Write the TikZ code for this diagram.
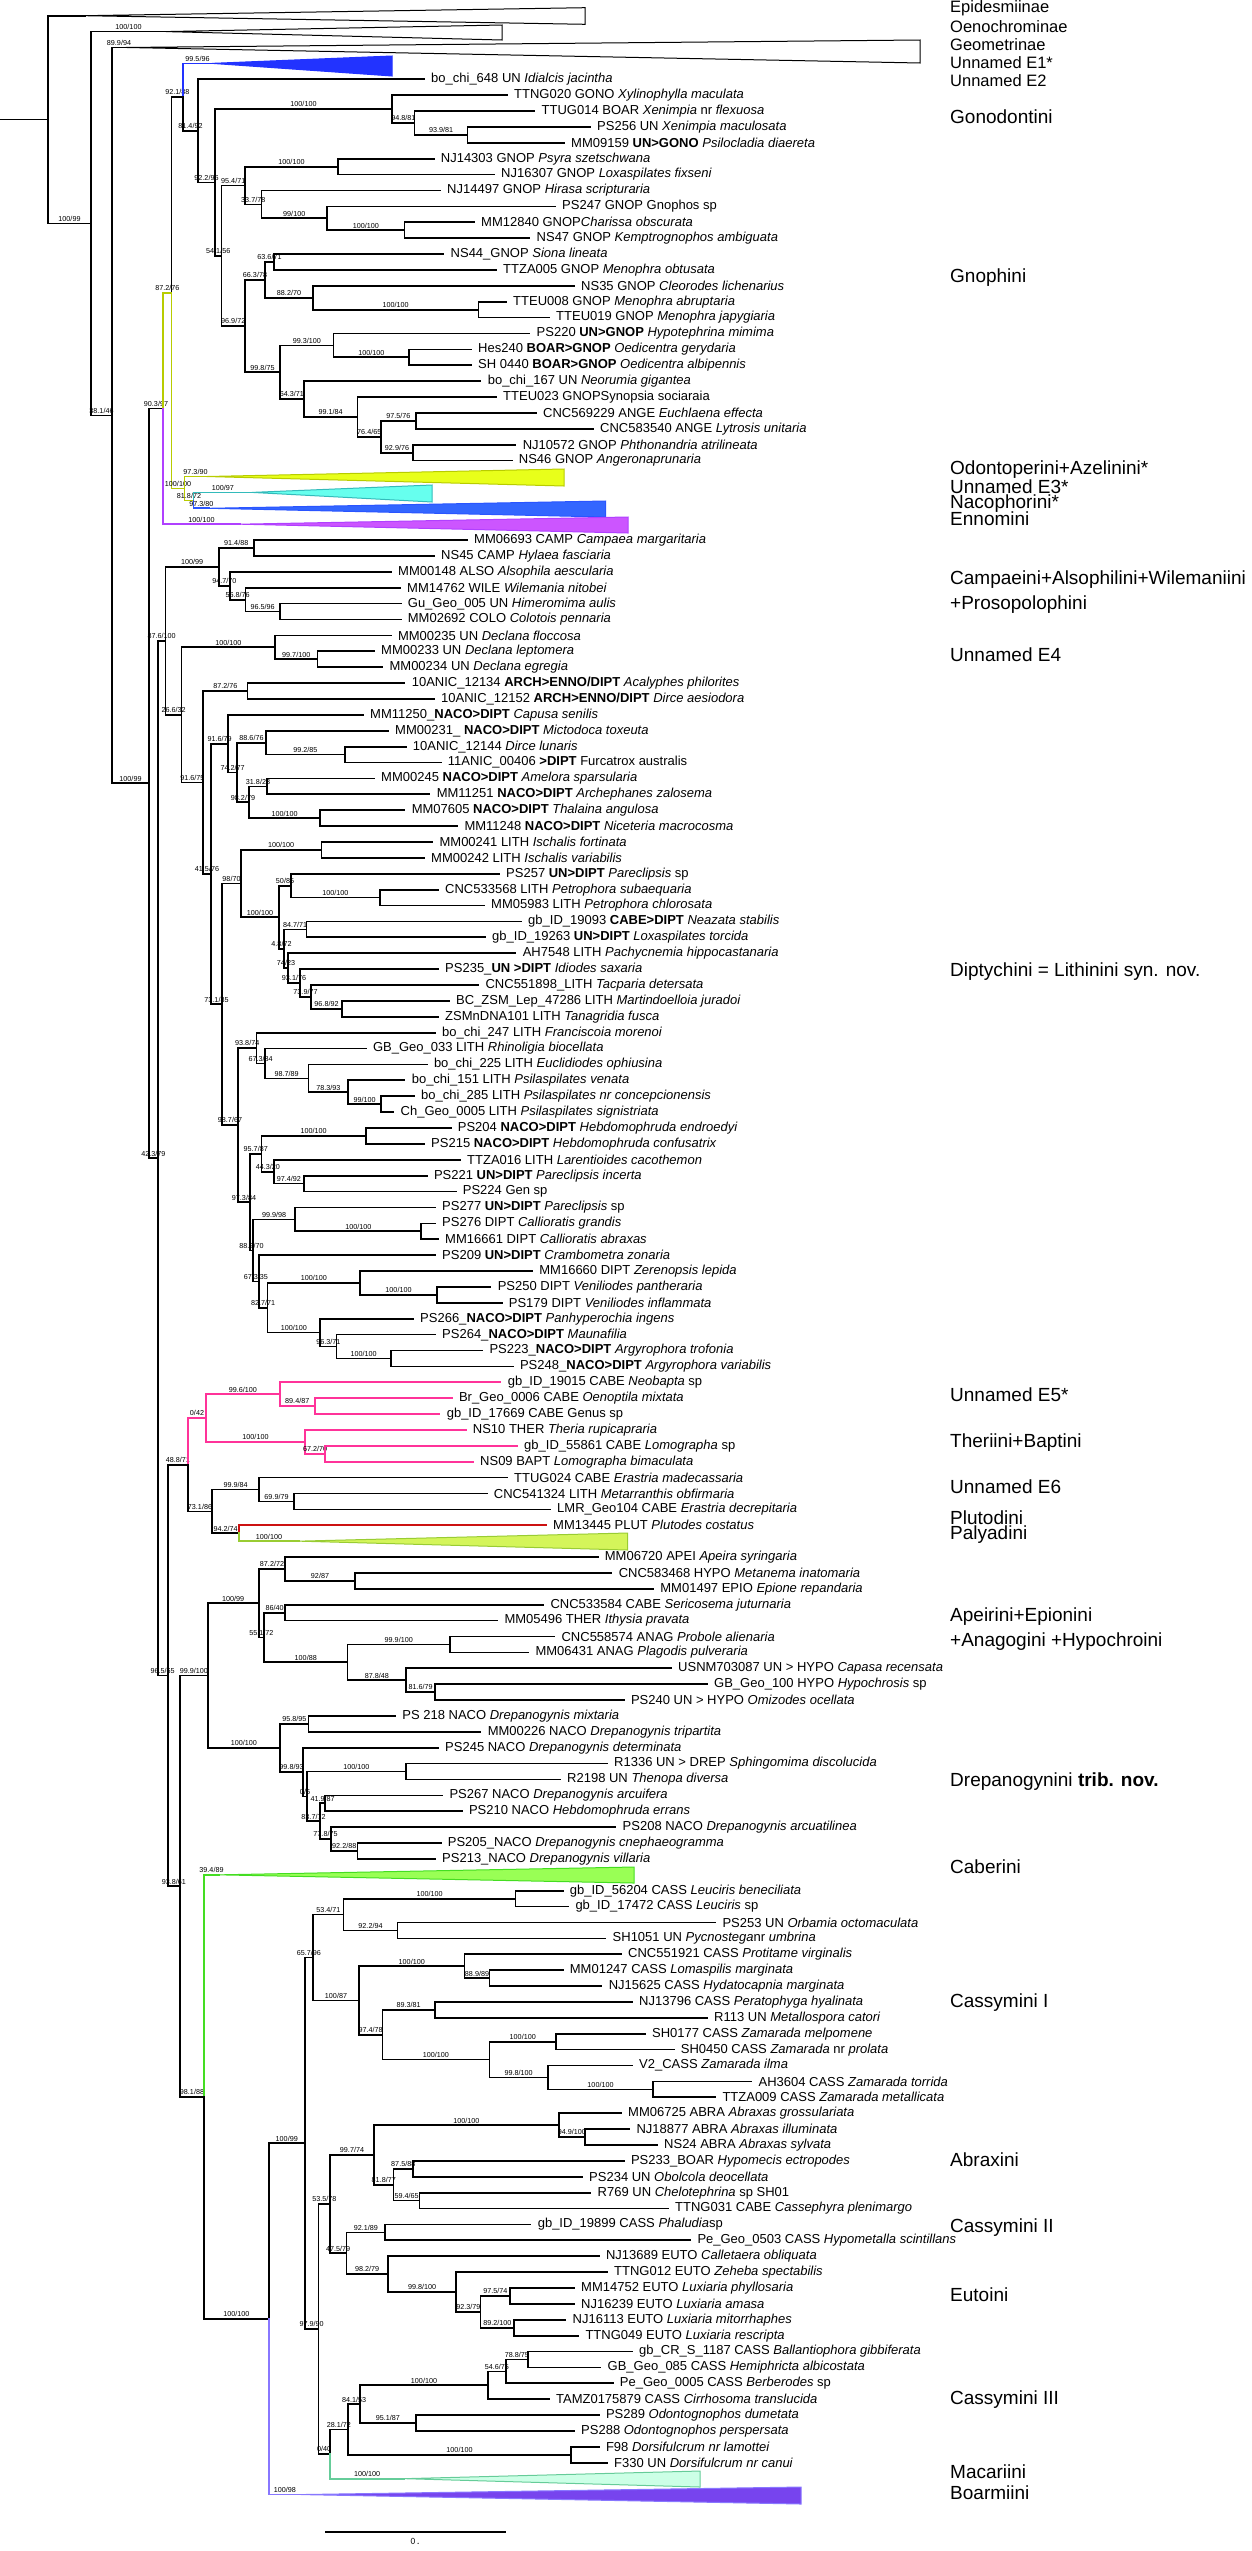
\documentclass[tikz,border=0pt]{standalone}
\usepackage{fontspec}
\setmainfont{Liberation Sans}
\usetikzlibrary{calc}
\definecolor{cBlue}{HTML}{2233FF}
\definecolor{cYG}{HTML}{B8CC00}
\definecolor{cOdoF}{HTML}{E8FF1A}
\definecolor{cE3}{HTML}{33BBBB}
\definecolor{cE3F}{HTML}{66FFEE}
\definecolor{cNac}{HTML}{2A55FF}
\definecolor{cNacF}{HTML}{3366FF}
\definecolor{cEnn}{HTML}{B040FF}
\definecolor{cEnnF}{HTML}{CC55FF}
\definecolor{cPink}{HTML}{FF3399}
\definecolor{cRed}{HTML}{CC1111}
\definecolor{cPal}{HTML}{99CC33}
\definecolor{cPalF}{HTML}{D4F55A}
\definecolor{cCab}{HTML}{44DD22}
\definecolor{cCabF}{HTML}{99FF55}
\definecolor{cMac}{HTML}{66CC99}
\definecolor{cMacF}{HTML}{CCFFE6}
\definecolor{cBoa}{HTML}{8877FF}
\definecolor{cBoaF}{HTML}{7744EE}
\newcommand\leafat[4]{\coordinate (#1) at (#2,{15.7+15.89*#3}); \node[tl] (#1t) at (#1) {#4};}
\newcommand\inode[4]{\path let \p1=($(#3)!0.5!(#4)$) in coordinate (#1) at (#2pt,\y1);}
\newcommand\tri[7]{\coordinate (#1) at (#2,{15.7+15.89*#3}); \filldraw[tristyle,#7] (#1) -- (#4,#5) -- (#4,#6) -- cycle;}
\newcommand\ted[3][]{\draw[br,#1] (#2) |- (#3);}
\newcommand\led[4][]{\draw[br,#1] (#2) |- node[sl]{#4} (#3);}
\begin{document}
\begin{tikzpicture}[x=1pt,y=-1pt,
  br/.style={line width=1.7pt, line cap=rect, line join=miter},
  sl/.style={pos=0.75, anchor=south, yshift=1.2pt, inner sep=0pt, text=black, font=\fontsize{7.2}{7.2}\selectfont},
  tl/.style={anchor=west, xshift=7pt, inner sep=0pt, font=\fontsize{13}{13}\selectfont},
  cl/.style={anchor=west, inner sep=0pt, font=\fontsize{19}{19}\selectfont},
  ct/.style={anchor=west, inner sep=0pt, font=\fontsize{16.5}{16.5}\selectfont},
  tristyle/.style={line width=1pt}]
\useasboundingbox (0,0) rectangle (1251,2551);
% ---------- collapsed clades ----------
\tri{epi}{85}{0}{585}{7.7}{24.3}{draw=black,fill=white}
\tri{oen}{166}{1}{502}{25}{40}{draw=black,fill=white}
\tri{geo}{126}{2}{920}{40}{63}{draw=black,fill=white}
\tri{eone}{212}{3}{392}{56}{76}{draw=cBlue,fill=cBlue}
\tri{odo}{206.6}{29}{564}{469}{486}{draw=cYG,fill=cOdoF}
\tri{ethree}{252}{30}{432}{485}{502}{draw=cE3,fill=cE3F}
\tri{nac}{209}{31}{605.5}{501}{517}{draw=cNac,fill=cNacF}
\tri{enn}{240}{32}{628}{517}{533}{draw=cEnn,fill=cEnnF}
\tri{paly}{298.7}{96}{627.6}{1533}{1550}{draw=cPal,fill=cPalF}
\tri{cab}{219}{117}{634}{1867}{1883}{draw=cCab,fill=cCabF}
\tri{mac}{404.6}{155}{700}{2471}{2487}{draw=cMac,fill=cMacF}
\tri{boa}{301}{156}{801}{2487}{2504}{draw=cBoa,fill=cBoaF}
% ---------- leaves ----------
\leafat{l1}{424}{4}{bo\_chi\_648 UN \textit{Idialcis jacintha}}
\leafat{l2}{507}{5}{TTNG020 GONO \textit{Xylinophylla maculata}}
\leafat{l3}{534.5}{6}{TTUG014 BOAR \textit{Xenimpia} nr \textit{flexuosa}}
\leafat{l4}{590}{7}{PS256 UN \textit{Xenimpia maculosata}}
\leafat{l5}{564}{8}{MM09159 \textbf{UN>GONO} \textit{Psilocladia diaereta}}
\leafat{l6}{433.7}{9}{NJ14303 GNOP \textit{Psyra szetschwana}}
\leafat{l7}{494}{10}{NJ16307 GNOP \textit{Loxaspilates fixseni}}
\leafat{l8}{440}{11}{NJ14497 GNOP \textit{Hirasa scripturaria}}
\leafat{l9}{555}{12}{PS247 GNOP Gnophos sp}
\leafat{l10}{474}{13}{MM12840 GNOP\textit{Charissa obscurata}}
\leafat{l11}{529.5}{14}{NS47 GNOP \textit{Kemptrognophos ambiguata}}
\leafat{l12}{443.5}{15}{NS44\_GNOP \textit{Siona lineata}}
\leafat{l13}{496}{16}{TTZA005 GNOP \textit{Menophra obtusata}}
\leafat{l14}{574}{17}{NS35 GNOP \textit{Cleorodes lichenarius}}
\leafat{l15}{506}{18}{TTEU008 GNOP \textit{Menophra abruptaria}}
\leafat{l16}{549}{19}{TTEU019 GNOP \textit{Menophra japygiaria}}
\leafat{l17}{529.5}{20}{PS220 \textbf{UN>GNOP} \textit{Hypotephrina mimima}}
\leafat{l18}{471}{21}{Hes240 \textbf{BOAR>GNOP} \textit{Oedicentra gerydaria}}
\leafat{l19}{471}{22}{SH 0440 \textbf{BOAR>GNOP} \textit{Oedicentra albipennis}}
\leafat{l20}{480.6}{23}{bo\_chi\_167 UN \textit{Neorumia gigantea}}
\leafat{l21}{496}{24}{TTEU023 GNOPSynopsia sociaraia}
\leafat{l22}{536}{25}{CNC569229 ANGE \textit{Euchlaena effecta}}
\leafat{l23}{593}{26}{CNC583540 ANGE \textit{Lytrosis unitaria}}
\leafat{l24}{515.6}{27}{NJ10572 GNOP \textit{Phthonandria atrilineata}}
\leafat{l25}{511.7}{28}{NS46 GNOP \textit{Angeronaprunaria}}
\leafat{l26}{467}{33}{MM06693 CAMP \textit{Campaea margaritaria}}
\leafat{l27}{434}{34}{NS45 CAMP \textit{Hylaea fasciaria}}
\leafat{l28}{391}{35}{MM00148 ALSO \textit{Alsophila aescularia}}
\leafat{l29}{400}{36}{MM14762 WILE \textit{Wilemania nitobei}}
\leafat{l30}{400.7}{37}{Gu\_Geo\_005 UN \textit{Himeromima aulis}}
\leafat{l31}{400.7}{38}{MM02692 COLO \textit{Colotois pennaria}}
\leafat{l32}{390.8}{39}{MM00235 UN \textit{Declana floccosa}}
\leafat{l33}{374}{40}{MM00233 UN \textit{Declana leptomera}}
\leafat{l34}{382.4}{41}{MM00234 UN \textit{Declana egregia}}
\leafat{l35}{404.6}{42}{10ANIC\_12134 \textbf{ARCH>ENNO/DIPT} \textit{Acalyphes philorites}}
\leafat{l36}{434}{43}{10ANIC\_12152 \textbf{ARCH>ENNO/DIPT} \textit{Dirce aesiodora}}
\leafat{l37}{363}{44}{MM11250\_\textbf{NACO>DIPT} \textit{Capusa senilis}}
\leafat{l38}{388}{45}{MM00231\_ \textbf{NACO>DIPT} \textit{Mictodoca toxeuta}}
\leafat{l39}{405.7}{46}{10ANIC\_12144 \textit{Dirce lunaris}}
\leafat{l40}{440.7}{47}{11ANIC\_00406 \textbf{>DIPT} Furcatrox australis}
\leafat{l41}{374}{48}{MM00245 \textbf{NACO>DIPT} \textit{Amelora sparsularia}}
\leafat{l42}{429.6}{49}{MM11251 \textbf{NACO>DIPT} \textit{Archephanes zalosema}}
\leafat{l43}{404.6}{50}{MM07605 \textbf{NACO>DIPT} \textit{Thalaina angulosa}}
\leafat{l44}{457.3}{51}{MM11248 \textbf{NACO>DIPT} \textit{Niceteria macrocosma}}
\leafat{l45}{432.4}{52}{MM00241 LITH \textit{Ischalis fortinata}}
\leafat{l46}{424}{53}{MM00242 LITH \textit{Ischalis variabilis}}
\leafat{l47}{499}{54}{PS257 \textbf{UN>DIPT} \textit{Pareclipsis} sp}
\leafat{l48}{438}{55}{CNC533568 LITH \textit{Petrophora subaequaria}}
\leafat{l49}{484}{56}{MM05983 LITH \textit{Petrophora chlorosata}}
\leafat{l50}{521}{57}{gb\_ID\_19093 \textbf{CABE>DIPT} \textit{Neazata stabilis}}
\leafat{l51}{485}{58}{gb\_ID\_19263 \textbf{UN>DIPT} \textit{Loxaspilates torcida}}
\leafat{l52}{515.6}{59}{AH7548 LITH \textit{Pachycnemia hippocastanaria}}
\leafat{l53}{438}{60}{PS235\_\textbf{UN >DIPT} \textit{Idiodes saxaria}}
\leafat{l54}{478.4}{61}{CNC551898\_LITH \textit{Tacparia detersata}}
\leafat{l55}{449}{62}{BC\_ZSM\_Lep\_47286 LITH \textit{Martindoelloia juradoi}}
\leafat{l56}{438}{63}{ZSMnDNA101 LITH \textit{Tanagridia fusca}}
\leafat{l57}{435}{64}{bo\_chi\_247 LITH \textit{Franciscoia morenoi}}
\leafat{l58}{365.8}{65}{GB\_Geo\_033 LITH \textit{Rhinoligia biocellata}}
\leafat{l59}{426.8}{66}{bo\_chi\_225 LITH \textit{Euclidiodes ophiusina}}
\leafat{l60}{404.6}{67}{bo\_chi\_151 LITH \textit{Psilaspilates venata}}
\leafat{l61}{414}{68}{bo\_chi\_285 LITH \textit{Psilaspilates nr concepcionensis}}
\leafat{l62}{393.5}{69}{Ch\_Geo\_0005 LITH \textit{Psilaspilates signistriata}}
\leafat{l63}{450.7}{70}{PS204 \textbf{NACO>DIPT} \textit{Hebdomophruda endroedyi}}
\leafat{l64}{424}{71}{PS215 \textbf{NACO>DIPT} \textit{Hebdomophruda confusatrix}}
\leafat{l65}{460}{72}{TTZA016 LITH \textit{Larentioides cacothemon}}
\leafat{l66}{426.8}{73}{PS221 \textbf{UN>DIPT} \textit{Pareclipsis incerta}}
\leafat{l67}{455.7}{74}{PS224 Gen sp}
\leafat{l68}{435}{75}{PS277 \textbf{UN>DIPT} \textit{Pareclipsis} sp}
\leafat{l69}{435}{76}{PS276 DIPT \textit{Callioratis grandis}}
\leafat{l70}{438}{77}{MM16661 DIPT \textit{Callioratis abraxas}}
\leafat{l71}{435}{78}{PS209 \textbf{UN>DIPT} \textit{Crambometra zonaria}}
\leafat{l72}{532.2}{79}{MM16660 DIPT \textit{Zerenopsis lepida}}
\leafat{l73}{490.6}{80}{PS250 DIPT \textit{Veniliodes pantheraria}}
\leafat{l74}{501.7}{81}{PS179 DIPT \textit{Veniliodes inflammata}}
\leafat{l75}{413}{82}{PS266\_\textbf{NACO>DIPT} \textit{Panhyperochia ingens}}
\leafat{l76}{435}{83}{PS264\_\textbf{NACO>DIPT} \textit{Maunafilia}}
\leafat{l77}{482.3}{84}{PS223\_\textbf{NACO>DIPT} \textit{Argyrophora trofonia}}
\leafat{l78}{512.8}{85}{PS248\_\textbf{NACO>DIPT} \textit{Argyrophora variabilis}}
\leafat{l79}{500.6}{86}{gb\_ID\_19015 CABE \textit{Neobapta} sp}
\leafat{l80}{451.8}{87}{Br\_Geo\_0006 CABE \textit{Oenoptila mixtata}}
\leafat{l81}{439.6}{88}{gb\_ID\_17669 CABE Genus sp}
\leafat{l82}{465.7}{89}{NS10 THER \textit{Theria rupicapraria}}
\leafat{l83}{517}{90}{gb\_ID\_55861 CABE \textit{Lomographa} sp}
\leafat{l84}{473}{91}{NS09 BAPT \textit{Lomographa bimaculata}}
\leafat{l85}{507}{92}{TTUG024 CABE \textit{Erastria madecassaria}}
\leafat{l86}{486.7}{93}{CNC541324 LITH \textit{Metarranthis obfirmaria}}
\leafat{l87}{550}{94}{LMR\_Geo104 CABE \textit{Erastria decrepitaria}}
\leafat{l88}{546}{95}{MM13445 PLUT \textit{Plutodes costatus}}
\leafat{l89}{597.7}{97}{MM06720 APEI \textit{Apeira syringaria}}
\leafat{l90}{611.6}{98}{CNC583468 HYPO \textit{Metanema inatomaria}}
\leafat{l91}{653.2}{99}{MM01497 EPIO \textit{Epione repandaria}}
\leafat{l92}{543.3}{100}{CNC533584 CABE \textit{Sericosema juturnaria}}
\leafat{l93}{497.3}{101}{MM05496 THER \textit{Ithysia pravata}}
\leafat{l94}{554.4}{102}{CNC558574 ANAG \textit{Probole alienaria}}
\leafat{l95}{528.3}{103}{MM06431 ANAG \textit{Plagodis pulveraria}}
\leafat{l96}{671}{104}{USNM703087 UN > HYPO \textit{Capasa recensata}}
\leafat{l97}{707}{105}{GB\_Geo\_100 HYPO \textit{Hypochrosis} sp}
\leafat{l98}{623.8}{106}{PS240 UN > HYPO \textit{Omizodes ocellata}}
\leafat{l99}{395.2}{107}{PS 218 NACO \textit{Drepanogynis mixtaria}}
\leafat{l100}{480.6}{108}{MM00226 NACO \textit{Drepanogynis tripartita}}
\leafat{l101}{438}{109}{PS245 NACO \textit{Drepanogynis determinata}}
\leafat{l102}{607}{110}{R1336 UN > DREP \textit{Sphingomima discolucida}}
\leafat{l103}{560}{111}{R2198 UN \textit{Thenopa diversa}}
\leafat{l104}{442.3}{112}{PS267 NACO \textit{Drepanogynis arcuifera}}
\leafat{l105}{461.8}{113}{PS210 NACO \textit{Hebdomophruda errans}}
\leafat{l106}{615.5}{114}{PS208 NACO \textit{Drepanogynis arcuatilinea}}
\leafat{l107}{440.7}{115}{PS205\_NACO \textit{Drepanogynis cnephaeogramma}}
\leafat{l108}{435}{116}{PS213\_NACO \textit{Drepanogynis villaria}}
\leafat{l109}{562.7}{118}{gb\_ID\_56204 CASS \textit{Leuciris beneciliata}}
\leafat{l110}{568.3}{119}{gb\_ID\_17472 CASS \textit{Leuciris} sp}
\leafat{l111}{715.3}{120}{PS253 UN \textit{Orbamia octomaculata}}
\leafat{l112}{605.5}{121}{SH1051 UN \textit{Pycnostega}nr \textit{umbrina}}
\leafat{l113}{621}{122}{CNC551921 CASS \textit{Protitame virginalis}}
\leafat{l114}{562.7}{123}{MM01247 CASS \textit{Lomaspilis marginata}}
\leafat{l115}{601.6}{124}{NJ15625 CASS \textit{Hydatocapnia marginata}}
\leafat{l116}{632}{125}{NJ13796 CASS \textit{Peratophyga hyalinata}}
\leafat{l117}{707}{126}{R113 UN \textit{Metallospora catori}}
\leafat{l118}{644.9}{127}{SH0177 CASS \textit{Zamarada melpomene}}
\leafat{l119}{673.7}{128}{SH0450 CASS \textit{Zamarada} nr \textit{prolata}}
\leafat{l120}{632}{129}{V2\_CASS \textit{Zamarada ilma}}
\leafat{l121}{751.4}{130}{AH3604 CASS \textit{Zamarada torrida}}
\leafat{l122}{715.3}{131}{TTZA009 CASS \textit{Zamarada metallicata}}
\leafat{l123}{621}{132}{MM06725 ABRA \textit{Abraxas grossulariata}}
\leafat{l124}{629.3}{133}{NJ18877 ABRA \textit{Abraxas illuminata}}
\leafat{l125}{657}{134}{NS24 ABRA \textit{Abraxas sylvata}}
\leafat{l126}{623.8}{135}{PS233\_BOAR \textit{Hypomecis ectropodes}}
\leafat{l127}{582}{136}{PS234 UN \textit{Obolcola deocellata}}
\leafat{l128}{590.5}{137}{R769 UN \textit{Chelotephrina} sp SH01}
\leafat{l129}{668}{138}{TTNG031 CABE \textit{Cassephyra plenimargo}}
\leafat{l130}{530.6}{139}{gb\_ID\_19899 CASS \textit{Phaludia}sp}
\leafat{l131}{690.3}{140}{Pe\_Geo\_0503 CASS \textit{Hypometalla scintillans}}
\leafat{l132}{598.8}{141}{NJ13689 EUTO \textit{Calletaera obliquata}}
\leafat{l133}{607}{142}{TTNG012 EUTO \textit{Zeheba spectabilis}}
\leafat{l134}{574}{143}{MM14752 EUTO \textit{Luxiaria phyllosaria}}
\leafat{l135}{574}{144}{NJ16239 EUTO \textit{Luxiaria amasa}}
\leafat{l136}{565.5}{145}{NJ16113 EUTO \textit{Luxiaria mitorrhaphes}}
\leafat{l137}{578.3}{146}{TTNG049 EUTO \textit{Luxiaria rescripta}}
\leafat{l138}{632}{147}{gb\_CR\_S\_1187 CASS \textit{Ballantiophora gibbiferata}}
\leafat{l139}{600.5}{148}{GB\_Geo\_085 CASS \textit{Hemiphricta albicostata}}
\leafat{l140}{612.7}{149}{Pe\_Geo\_0005 CASS \textit{Berberodes} sp}
\leafat{l141}{548.9}{150}{TAMZ0175879 CASS \textit{Cirrhosoma translucida}}
\leafat{l142}{598.8}{151}{PS289 \textit{Odontognophos dumetata}}
\leafat{l143}{574}{152}{PS288 \textit{Odontognophos perspersata}}
\leafat{l144}{598.8}{153}{F98 \textit{Dorsifulcrum nr lamottei}}
\leafat{l145}{607}{154}{F330 UN \textit{Dorsifulcrum nr canui}}
% ---------- internal nodes (postorder) ----------
\inode{nI}{467.5}{l4}{l5}
\inode{nH}{414.6}{l3}{nI}
\inode{nGono}{392}{l2}{nH}
\inode{nNa}{338}{l6}{l7}
\inode{nYb}{404.6}{l10}{l11}
\inode{nX}{327}{l9}{nYb}
\inode{nS}{261.5}{l8}{nX}
\inode{nR}{245}{nNa}{nS}
\inode{nNS}{274}{l12}{l13}
\inode{nU}{478.4}{l15}{l16}
\inode{nCl}{313}{l14}{nU}
\inode{nTa}{265}{nNS}{nCl}
\inode{nHS}{409}{l18}{l19}
\inode{nPS}{333.6}{l17}{nHS}
\inode{nCN}{415.7}{l22}{l23}
\inode{nNJ}{413}{l24}{l25}
\inode{nLsb}{381}{nCN}{nNJ}
\inode{nLs}{357.5}{l21}{nLsb}
\inode{nL}{303.7}{l20}{nLs}
\inode{nTb}{280}{nPS}{nL}
\inode{nQ}{245}{nTa}{nTb}
\inode{nP}{221.5}{nR}{nQ}
\inode{nJ}{215}{nGono}{nP}
\inode{nF}{198}{l1}{nJ}
\inode{nE}{183}{eone}{nF}
\inode{nV}{193.6}{ethree}{nac}
\inode{nZ}{184.4}{odo}{nV}
\inode{nY}{171.6}{nE}{nZ}
\inode{nM}{163}{nY}{enn}
\inode{nCa1}{253.7}{l26}{l27}
\inode{nCP4}{280}{l30}{l31}
\inode{nCP3}{245.4}{l29}{nCP4}
\inode{nCP2}{230}{l28}{nCP3}
\inode{nCP}{218.8}{nCa1}{nCP2}
\inode{nE4b}{317.5}{l33}{l34}
\inode{nE4}{275}{l32}{nE4b}
\inode{nAN}{247.6}{l35}{l36}
\inode{nA4}{344.7}{l39}{l40}
\inode{nA3}{266}{l38}{nA4}
\inode{nA5}{267}{l41}{l42}
\inode{nA6}{320.3}{l43}{l44}
\inode{nA7}{249}{nA5}{nA6}
\inode{nA2}{237}{nA3}{nA7}
\inode{nGA}{228.2}{l37}{nA2}
\inode{nM41}{321.4}{l45}{l46}
\inode{nCM}{379.7}{l48}{l49}
\inode{nPSa}{291}{l47}{nCM}
\inode{nGB}{306.4}{l50}{l51}
\inode{nBZ}{342}{l55}{l56}
\inode{nLP}{311}{l54}{nBZ}
\inode{nLO}{300}{l53}{nLP}
\inode{nLN}{288}{l52}{nLO}
\inode{nLM}{284}{nGB}{nLN}
\inode{nLL}{279}{nPSa}{nLM}
\inode{nLa}{241}{nM41}{nLL}
\inode{nBc}{381.3}{l61}{l62}
\inode{nBb}{348}{l60}{nBc}
\inode{nBa}{308.6}{l59}{nBb}
\inode{nG33}{264.8}{l58}{nBa}
\inode{nL3}{256.5}{l57}{nG33}
\inode{nP204}{365.8}{l63}{l64}
\inode{nP221}{303.7}{l66}{l67}
\inode{nTZ}{274.2}{l65}{nP221}
\inode{nL5}{261.5}{nP204}{nTZ}
\inode{nP276}{421.3}{l69}{l70}
\inode{nP277}{295.3}{l68}{nP276}
\inode{nP250}{436.8}{l73}{l74}
\inode{nM660}{360.2}{l72}{nP250}
\inode{nP223}{390.8}{l77}{l78}
\inode{nP264}{336.4}{l76}{nP223}
\inode{nP266}{320.3}{l75}{nP264}
\inode{nK827}{267.6}{nM660}{nP266}
\inode{nP209}{258.7}{l71}{nK827}
\inode{nL7}{253}{nP277}{nP209}
\inode{nL4}{250}{nL5}{nL7}
\inode{nL2}{238}{nL3}{nL4}
\inode{nD3}{222}{nLa}{nL2}
\inode{nD2}{211}{nGA}{nD3}
\inode{nDip}{203}{nAN}{nD2}
\inode{nD1}{181.6}{nE4}{nDip}
\inode{nD0}{165.5}{nCP}{nD1}
\inode{nBr}{314.7}{l80}{l81}
\inode{nE5}{279.8}{l79}{nBr}
\inode{nG55}{325.3}{l83}{l84}
\inode{nTh}{305}{l82}{nG55}
\inode{nPK}{206}{nE5}{nTh}
\inode{nCL}{293.7}{l86}{l87}
\inode{nE6}{259.3}{l85}{nCL}
\inode{nPl}{239.3}{l88}{paly}
\inode{nE6P}{212}{nE6}{nPl}
\inode{nUE}{188}{nPK}{nE6P}
\inode{nC468}{354.7}{l90}{l91}
\inode{nAE1}{285.3}{l89}{nC468}
\inode{nC584}{285.3}{l92}{l93}
\inode{nC574}{450}{l94}{l95}
\inode{nG100}{435}{l97}{l98}
\inode{nHYP}{406.3}{l96}{nG100}
\inode{nANH}{347.5}{nC574}{nHYP}
\inode{nAE2}{264}{nC584}{nANH}
\inode{nAE}{258.7}{nAE1}{nAE2}
\inode{nP218}{308.6}{l99}{l100}
\inode{nR13}{405.7}{l102}{l103}
\inode{nP267}{325.3}{l104}{l105}
\inode{nP205}{357.5}{l107}{l108}
\inode{nDR5}{331}{l106}{nP205}
\inode{nDR4}{320}{nP267}{nDR5}
\inode{nDR3}{307}{nR13}{nDR4}
\inode{nDR2}{303}{l101}{nDR3}
\inode{nDR}{280}{nP218}{nDR2}
\inode{nAP}{207.7}{nAE}{nDR}
\inode{nG56}{515.6}{l109}{l110}
\inode{nP253}{397.4}{l111}{l112}
\inode{nCA1}{343.6}{nG56}{nP253}
\inode{nM01}{489.5}{l114}{l115}
\inode{nCA3}{464.5}{l113}{nM01}
\inode{nNJ13}{435}{l116}{l117}
\inode{nSH}{556}{l118}{l119}
\inode{nAH}{653.2}{l121}{l122}
\inode{nV2}{547.8}{l120}{nAH}
\inode{nCA5}{489.5}{nSH}{nV2}
\inode{nCA4}{382.4}{nNJ13}{nCA5}
\inode{nCA2}{359}{nCA3}{nCA4}
\inode{nCI}{313}{nCA1}{nCA2}
\inode{nNJ18}{585}{l124}{l125}
\inode{nAB}{558.9}{l123}{nNJ18}
\inode{nP233}{413}{l126}{l127}
\inode{nR769}{419.6}{l128}{l129}
\inode{nAB2}{393.5}{nP233}{nR769}
\inode{nAB3}{374}{nAB}{nAB2}
\inode{nG19}{385.2}{l130}{l131}
\inode{nM14}{510}{l134}{l135}
\inode{nNJ161}{514}{l136}{l137}
\inode{nEU4}{480.6}{nM14}{nNJ161}
\inode{nEU3}{456.2}{l133}{nEU4}
\inode{nEU2}{388}{l132}{nEU3}
\inode{nCII}{346.4}{nG19}{nEU2}
\inode{nABE}{330}{nAB3}{nCII}
\inode{nCd}{527.8}{l138}{l139}
\inode{nCc}{506}{nCd}{l140}
\inode{nCa}{487.8}{nCc}{l141}
\inode{nP289}{415.7}{l142}{l143}
\inode{nCb}{360.2}{nCa}{nP289}
\inode{nF98}{571}{l144}{l145}
\inode{nCe}{348}{nCb}{nF98}
\inode{nCf}{329.7}{nCe}{mac}
\inode{nCtwo}{318.6}{nABE}{nCf}
\inode{nCS}{304.8}{nCI}{nCtwo}
\inode{nBM}{268.7}{nCS}{boa}
\inode{nBC}{204}{cab}{nBM}
\inode{nNB}{180}{nAP}{nBC}
\inode{nNA}{167.7}{nUE}{nNB}
\inode{nK2}{157.7}{nD0}{nNA}
\inode{nK1}{149}{nM}{nK2}
\inode{nB}{112}{geo}{nK1}
\inode{nA}{91}{oen}{nB}
\inode{nRoot}{48}{epi}{nA}
% ---------- edges ----------
\path let \p1=(nRoot) in coordinate (rs) at (0pt,\y1);
\draw[br] (rs) -- (nRoot);
\ted{nRoot}{epi}
\led{nRoot}{nA}{100/99}
\led{nA}{oen}{100/100}
\led{nA}{nB}{38.1/46}
\led{nB}{geo}{89.9/94}
\led{nB}{nK1}{100/99}
\led{nK1}{nM}{90.3/97}
\led{nK1}{nK2}{42.3/79}
\led[cYG]{nM}{nY}{87.2/76}
\led[cEnn]{nM}{enn}{100/100}
\led{nY}{nE}{92.1/88}
\led[cYG]{nY}{nZ}{100/100}
\led[cBlue]{nE}{eone}{99.5/96}
\led{nE}{nF}{81.4/92}
\ted{nF}{l1}
\led{nF}{nJ}{92.2/96}
\led{nJ}{nGono}{100/100}
\led{nJ}{nP}{54.1/56}
\ted{nGono}{l2}
\led{nGono}{nH}{94.8/81}
\ted{nH}{l3}
\led{nH}{nI}{93.9/81}
\ted{nI}{l4}
\ted{nI}{l5}
\led{nP}{nR}{95.4/71}
\led{nP}{nQ}{96.9/72}
\led{nR}{nNa}{100/100}
\led{nR}{nS}{33.7/78}
\ted{nNa}{l6}
\ted{nNa}{l7}
\ted{nS}{l8}
\led{nS}{nX}{99/100}
\ted{nX}{l9}
\led{nX}{nYb}{100/100}
\ted{nYb}{l10}
\ted{nYb}{l11}
\led{nQ}{nTa}{66.3/78}
\led{nQ}{nTb}{99.8/75}
\led{nTa}{nNS}{63.6/71}
\led{nTa}{nCl}{88.2/70}
\ted{nNS}{l12}
\ted{nNS}{l13}
\ted{nCl}{l14}
\led{nCl}{nU}{100/100}
\ted{nU}{l15}
\ted{nU}{l16}
\led{nTb}{nPS}{99.3/100}
\led{nTb}{nL}{64.3/71}
\ted{nPS}{l17}
\led{nPS}{nHS}{100/100}
\ted{nHS}{l18}
\ted{nHS}{l19}
\ted{nL}{l20}
\led{nL}{nLs}{99.1/84}
\ted{nLs}{l21}
\led{nLs}{nLsb}{76.4/65}
\led{nLsb}{nCN}{97.5/76}
\led{nLsb}{nNJ}{92.9/76}
\ted{nCN}{l22}
\ted{nCN}{l23}
\ted{nNJ}{l24}
\ted{nNJ}{l25}
\led[cYG]{nZ}{odo}{97.3/90}
\led[cYG]{nZ}{nV}{81.8/72}
\led[cE3]{nV}{ethree}{100/97}
\led[cNac]{nV}{nac}{97.3/80}
\led{nK2}{nD0}{87.6/100}
\led{nK2}{nNA}{96.5/65}
\led{nD0}{nCP}{100/99}
\led{nD0}{nD1}{26.6/32}
\led{nCP}{nCa1}{91.4/88}
\led{nCP}{nCP2}{94.7/70}
\ted{nCa1}{l26}
\ted{nCa1}{l27}
\ted{nCP2}{l28}
\led{nCP2}{nCP3}{56.8/76}
\ted{nCP3}{l29}
\led{nCP3}{nCP4}{96.5/96}
\ted{nCP4}{l30}
\ted{nCP4}{l31}
\led{nD1}{nE4}{100/100}
\led{nD1}{nDip}{91.6/75}
\ted{nE4}{l32}
\led{nE4}{nE4b}{99.7/100}
\ted{nE4b}{l33}
\ted{nE4b}{l34}
\led{nDip}{nAN}{87.2/76}
\led{nDip}{nD2}{41.5/76}
\ted{nAN}{l35}
\ted{nAN}{l36}
\led{nD2}{nGA}{91.6/79}
\led{nD2}{nD3}{73.1/85}
\ted{nGA}{l37}
\led{nGA}{nA2}{74.2/77}
\led{nA2}{nA3}{88.6/76}
\led{nA2}{nA7}{98.2/79}
\ted{nA3}{l38}
\led{nA3}{nA4}{99.2/85}
\ted{nA4}{l39}
\ted{nA4}{l40}
\led{nA7}{nA5}{31.8/28}
\led{nA7}{nA6}{100/100}
\ted{nA5}{l41}
\ted{nA5}{l42}
\ted{nA6}{l43}
\ted{nA6}{l44}
\led{nD3}{nLa}{98/70}
\led{nD3}{nL2}{98.7/67}
\led{nLa}{nM41}{100/100}
\led{nLa}{nLL}{100/100}
\ted{nM41}{l45}
\ted{nM41}{l46}
\led{nLL}{nPSa}{50/85}
\led{nLL}{nLM}{4.8/72}
\ted{nPSa}{l47}
\led{nPSa}{nCM}{100/100}
\ted{nCM}{l48}
\ted{nCM}{l49}
\led{nLM}{nGB}{84.7/71}
\led{nLM}{nLN}{74/23}
\ted{nGB}{l50}
\ted{nGB}{l51}
\ted{nLN}{l52}
\led{nLN}{nLO}{93.1/76}
\ted{nLO}{l53}
\led{nLO}{nLP}{73.9/77}
\ted{nLP}{l54}
\led{nLP}{nBZ}{96.8/92}
\ted{nBZ}{l55}
\ted{nBZ}{l56}
\led{nL2}{nL3}{93.8/74}
\led{nL2}{nL4}{97.3/84}
\ted{nL3}{l57}
\led{nL3}{nG33}{67.3/84}
\ted{nG33}{l58}
\led{nG33}{nBa}{98.7/89}
\ted{nBa}{l59}
\led{nBa}{nBb}{78.3/93}
\ted{nBb}{l60}
\led{nBb}{nBc}{99/100}
\ted{nBc}{l61}
\ted{nBc}{l62}
\led{nL4}{nL5}{95.7/87}
\led{nL4}{nL7}{88.2/70}
\led{nL5}{nP204}{100/100}
\led{nL5}{nTZ}{44.3/20}
\ted{nP204}{l63}
\ted{nP204}{l64}
\ted{nTZ}{l65}
\led{nTZ}{nP221}{97.4/92}
\ted{nP221}{l66}
\ted{nP221}{l67}
\led{nL7}{nP277}{99.9/98}
\led{nL7}{nP209}{67.3/35}
\ted{nP277}{l68}
\led{nP277}{nP276}{100/100}
\ted{nP276}{l69}
\ted{nP276}{l70}
\ted{nP209}{l71}
\led{nP209}{nK827}{82.7/71}
\led{nK827}{nM660}{100/100}
\led{nK827}{nP266}{100/100}
\ted{nM660}{l72}
\led{nM660}{nP250}{100/100}
\ted{nP250}{l73}
\ted{nP250}{l74}
\ted{nP266}{l75}
\led{nP266}{nP264}{96.3/71}
\ted{nP264}{l76}
\led{nP264}{nP223}{100/100}
\ted{nP223}{l77}
\ted{nP223}{l78}
\led{nNA}{nUE}{48.8/71}
\led{nNA}{nNB}{93.8/61}
\led[cPink]{nUE}{nPK}{0/42}
\led{nUE}{nE6P}{73.1/86}
\led[cPink]{nPK}{nE5}{99.6/100}
\led[cPink]{nPK}{nTh}{100/100}
\ted[cPink]{nE5}{l79}
\led[cPink]{nE5}{nBr}{89.4/87}
\ted[cPink]{nBr}{l80}
\ted[cPink]{nBr}{l81}
\ted[cPink]{nTh}{l82}
\led[cPink]{nTh}{nG55}{67.2/70}
\ted[cPink]{nG55}{l83}
\ted[cPink]{nG55}{l84}
\led{nE6P}{nE6}{99.9/84}
\led{nE6P}{nPl}{94.2/74}
\ted{nE6}{l85}
\led{nE6}{nCL}{69.9/79}
\ted{nCL}{l86}
\ted{nCL}{l87}
\ted[cRed]{nPl}{l88}
\led[cPal]{nPl}{paly}{100/100}
\led{nNB}{nAP}{99.9/100}
\led{nNB}{nBC}{98.1/88}
\led{nAP}{nAE}{100/99}
\led{nAP}{nDR}{100/100}
\led{nAE}{nAE1}{87.2/72}
\led{nAE}{nAE2}{55.1/72}
\ted{nAE1}{l89}
\led{nAE1}{nC468}{92/87}
\ted{nC468}{l90}
\ted{nC468}{l91}
\led{nAE2}{nC584}{86/40}
\led{nAE2}{nANH}{100/88}
\ted{nC584}{l92}
\ted{nC584}{l93}
\led{nANH}{nC574}{99.9/100}
\led{nANH}{nHYP}{87.8/48}
\ted{nC574}{l94}
\ted{nC574}{l95}
\ted{nHYP}{l96}
\led{nHYP}{nG100}{81.6/79}
\ted{nG100}{l97}
\ted{nG100}{l98}
\led{nDR}{nP218}{95.8/95}
\led{nDR}{nDR2}{99.8/93}
\ted{nP218}{l99}
\ted{nP218}{l100}
\ted{nDR2}{l101}
\led{nDR2}{nDR3}{0/6}
\led{nDR3}{nR13}{100/100}
\led{nDR3}{nDR4}{83.7/72}
\ted{nR13}{l102}
\ted{nR13}{l103}
\led{nDR4}{nP267}{41.9/87}
\led{nDR4}{nDR5}{77.8/75}
\ted{nP267}{l104}
\ted{nP267}{l105}
\ted{nDR5}{l106}
\led{nDR5}{nP205}{92.2/88}
\ted{nP205}{l107}
\ted{nP205}{l108}
\led[cCab]{nBC}{cab}{39.4/89}
\led{nBC}{nBM}{100/100}
\led{nBM}{nCS}{100/99}
\led[cBoa]{nBM}{boa}{100/98}
\led{nCS}{nCI}{65.7/96}
\led{nCS}{nCtwo}{97.9/90}
\led{nCI}{nCA1}{53.4/71}
\led{nCI}{nCA2}{100/87}
\led{nCA1}{nG56}{100/100}
\led{nCA1}{nP253}{92.2/94}
\ted{nG56}{l109}
\ted{nG56}{l110}
\ted{nP253}{l111}
\ted{nP253}{l112}
\led{nCA2}{nCA3}{100/100}
\led{nCA2}{nCA4}{97.4/78}
\ted{nCA3}{l113}
\led{nCA3}{nM01}{88.9/89}
\ted{nM01}{l114}
\ted{nM01}{l115}
\led{nCA4}{nNJ13}{89.3/81}
\led{nCA4}{nCA5}{100/100}
\ted{nNJ13}{l116}
\ted{nNJ13}{l117}
\led{nCA5}{nSH}{100/100}
\led{nCA5}{nV2}{99.8/100}
\ted{nSH}{l118}
\ted{nSH}{l119}
\ted{nV2}{l120}
\led{nV2}{nAH}{100/100}
\ted{nAH}{l121}
\ted{nAH}{l122}
\led{nCtwo}{nABE}{53.5/78}
\led{nCtwo}{nCf}{0/40}
\led{nABE}{nAB3}{99.7/74}
\led{nABE}{nCII}{47.5/79}
\led{nAB3}{nAB}{100/100}
\led{nAB3}{nAB2}{81.8/77}
\ted{nAB}{l123}
\led{nAB}{nNJ18}{94.9/100}
\ted{nNJ18}{l124}
\ted{nNJ18}{l125}
\led{nAB2}{nP233}{87.5/88}
\led{nAB2}{nR769}{59.4/65}
\ted{nP233}{l126}
\ted{nP233}{l127}
\ted{nR769}{l128}
\ted{nR769}{l129}
\led{nCII}{nG19}{92.1/89}
\led{nCII}{nEU2}{98.2/79}
\ted{nG19}{l130}
\ted{nG19}{l131}
\ted{nEU2}{l132}
\led{nEU2}{nEU3}{99.8/100}
\ted{nEU3}{l133}
\led{nEU3}{nEU4}{92.3/79}
\led{nEU4}{nM14}{97.5/74}
\led{nEU4}{nNJ161}{89.2/100}
\ted{nM14}{l134}
\ted{nM14}{l135}
\ted{nNJ161}{l136}
\ted{nNJ161}{l137}
\led{nCf}{nCe}{28.1/72}
\led[cMac]{nCf}{mac}{100/100}
\led{nCe}{nCb}{84.1/53}
\led{nCe}{nF98}{100/100}
\led{nCb}{nCa}{100/100}
\led{nCb}{nP289}{95.1/87}
\led{nCa}{nCc}{54.6/75}
\ted{nCa}{l141}
\led{nCc}{nCd}{78.8/75}
\ted{nCc}{l140}
\ted{nCd}{l138}
\ted{nCd}{l139}
\ted{nP289}{l142}
\ted{nP289}{l143}
\ted{nF98}{l144}
\ted{nF98}{l145}
% ---------- clade names ----------
\node[ct] (c1) at (950,8) {Epidesmiinae};
\node[ct] (c2) at (950,26.5) {Oenochrominae};
\node[ct] (c3) at (950,44.5) {Geometrinae};
\node[ct] (c4) at (950,63) {Unnamed E1*};
\node[ct] (c5) at (950,80.5) {Unnamed E2};
\node[cl] (c6) at (950,117) {Gonodontini};
\node[cl] (c7) at (950,278) {Gnophini};
\node[cl] (c8) at (950,470) {Odontoperini+Azelinini*};
\node[cl] (c9) at (950,487) {Unnamed E3*};
\node[cl] (c10) at (950,504) {Nacophorini*};
\node[cl] (c11) at (950,519) {Ennomini};
\node[cl] (c12) at (950,580) {Campaeini+Alsophilini+Wilemaniini};
\node[cl] (c13) at (950,605) {+Prosopolophini};
\node[cl] (c14) at (950,655) {Unnamed E4};
\node[cl] (c15) at (950,972) {Diptychini = Lithinini syn. nov.};
\node[cl] (c16) at (950,1395) {Unnamed E5*};
\node[cl] (c17) at (950,1443) {Theriini+Baptini};
\node[cl] (c18) at (950,1487) {Unnamed E6};
\node[cl] (c19) at (950,1518) {Plutodini};
\node[cl] (c20) at (950,1535) {Palyadini};
\node[cl] (c21) at (950,1617) {Apeirini+Epionini};
\node[cl] (c22) at (950,1642) {+Anagogini +Hypochroini};
\node[cl] (c23) at (950,1782) {Drepanogynini \textbf{trib. nov.}};
\node[cl] (c24) at (950,1867) {Caberini};
\node[cl] (c25) at (950,2003) {Cassymini I};
\node[cl] (c26) at (950,2160) {Abraxini};
\node[cl] (c27) at (950,2228) {Cassymini II};
\node[cl] (c28) at (950,2295) {Eutoini};
\node[cl] (c29) at (950,2400) {Cassymini III};
\node[cl] (c30) at (950,2472) {Macariini};
\node[cl] (c31) at (950,2493) {Boarmiini};
% ---------- scale bar ----------
\coordinate (sbA) at (325,2532);
\coordinate (sbB) at (506,2532);
\draw[line width=1.2pt] (sbA) -- (sbB);
\node[anchor=north, inner sep=0pt, font=\ttfamily\fontsize{10}{10}\selectfont] (sbT) at ($(sbA)!0.5!(sbB)+(0,6)$) {0.};
\end{tikzpicture}
\end{document}
